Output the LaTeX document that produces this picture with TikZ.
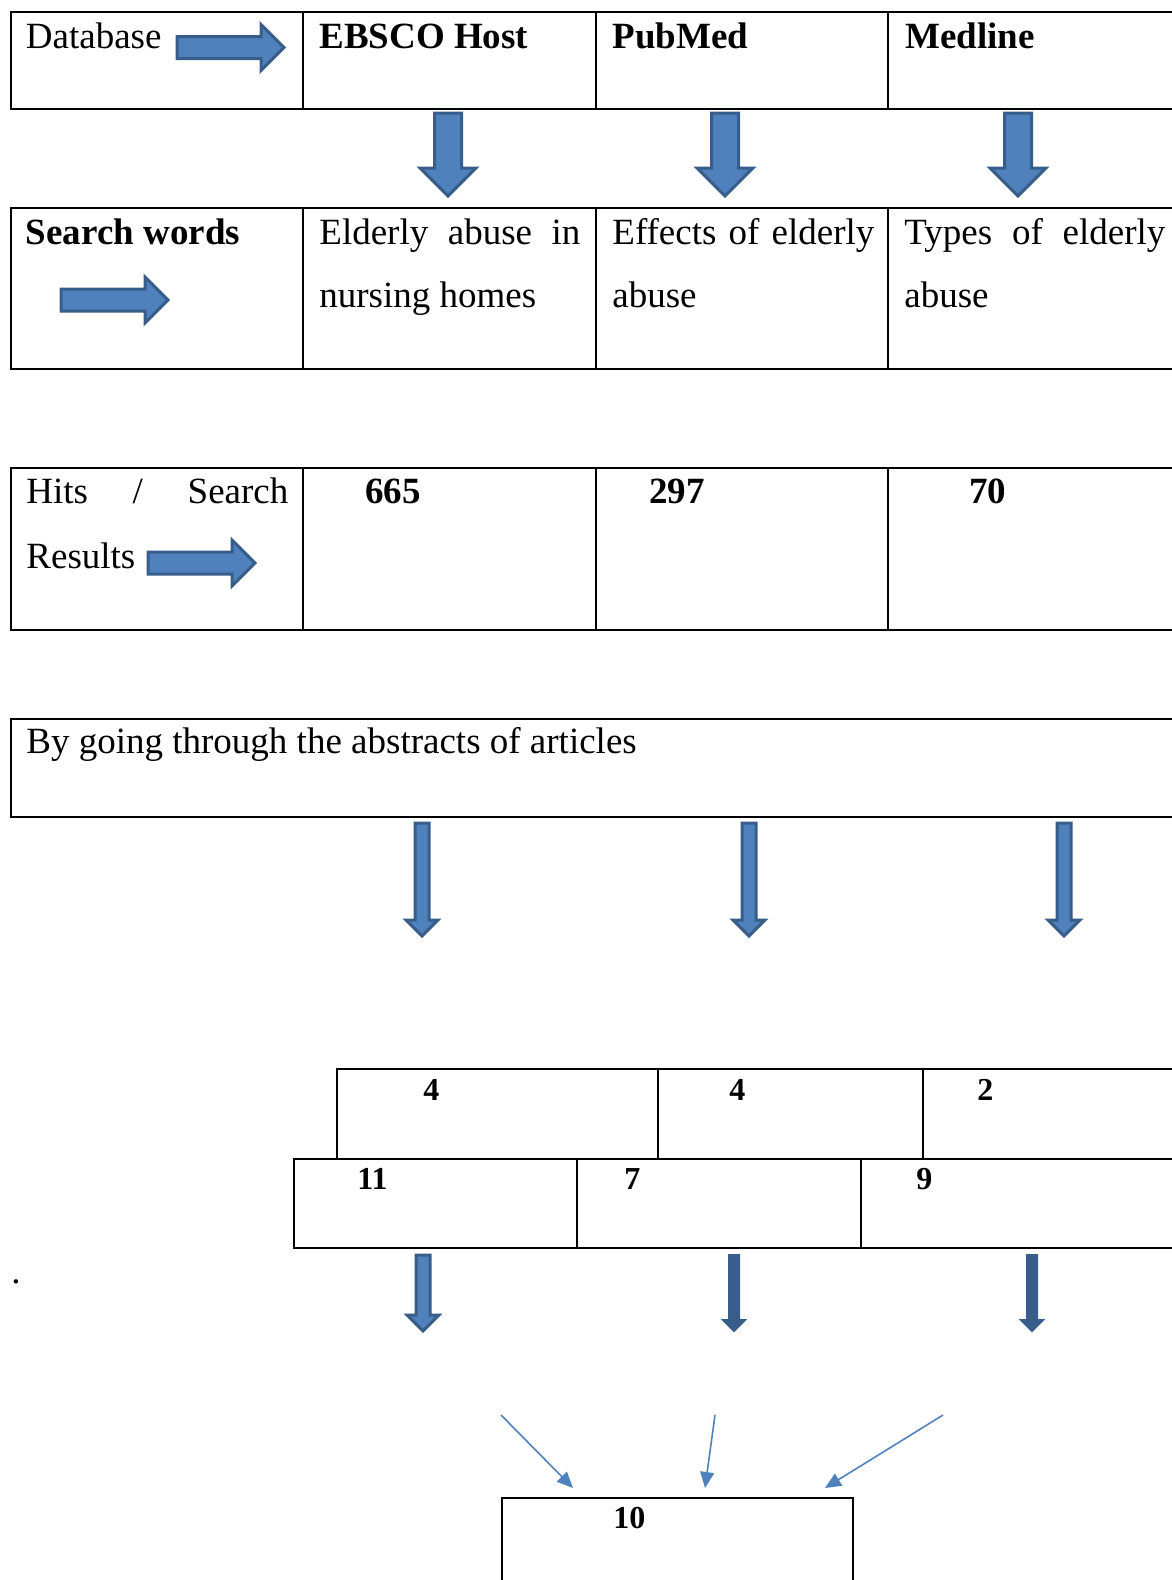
\documentclass[tikz,border=0pt]{standalone}
\usepackage{fontspec}
\setmainfont{Liberation Serif}
\usepackage{tikz}
\usetikzlibrary{arrows.meta}
\definecolor{cFill}{RGB}{79,129,189}
\definecolor{cEdge}{RGB}{56,93,138}

\begin{document}
\begin{tikzpicture}[x=0.5pt,y=-0.5pt,
   cell/.style={draw,line width=1pt},
   txt/.style={anchor=base west,inner sep=0pt,font=\fontsize{18.5}{22}\selectfont},
   head/.style={txt,font=\fontsize{18.5}{22}\selectfont\bfseries},
   num/.style={anchor=base west,inner sep=0pt,font=\fontsize{16}{19}\selectfont\bfseries},
   blk/.style={draw=cEdge,fill=cFill,line width=1.5pt},
   blkdark/.style={draw=cEdge,fill=cEdge,line width=1pt},
   link/.style={draw=cFill,line width=0.8pt,-{Triangle[length=8pt,width=7pt]}}]
  \useasboundingbox (0,0) rectangle (1172,1580);
  % table rows
  \draw[cell] (10.5,12) rectangle (1180,109);
  \draw[cell] (10.5,208) rectangle (1180,369);
  \draw[cell] (10.5,468) rectangle (1180,630);
  \foreach \x in {302.5,596,888} {
    \draw[cell] (\x,12) -- (\x,109);
    \draw[cell] (\x,208) -- (\x,369);
    \draw[cell] (\x,468) -- (\x,630);
  }
  \draw[cell] (10.5,719) rectangle (1180,817);
  % selected articles
  \draw[cell] (337,1068.5) rectangle (1180,1158.5);
  \foreach \x in {658,923} \draw[cell] (\x,1068.5) -- (\x,1158.5);
  \draw[cell] (294,1158.5) rectangle (1180,1248);
  \foreach \x in {577,861} \draw[cell] (\x,1158.5) -- (\x,1248);
  \draw[cell] (502,1600) |- (853,1498) -- (853,1600);
  % row texts
  \node[txt] (tDb) at (25.5,48) {Database};
  \node[head] (tEbsco) at (319,48) {EBSCO Host};
  \node[head] (tPub) at (612,48) {PubMed};
  \node[head] (tMed) at (905,48) {Medline};
  \node[head] (tWords) at (25.5,244) {Search words};
  \node[txt] (w1a) at (319,244) {\makebox[130.5pt][s]{Elderly abuse in}};
  \node[txt] (w1b) at (319,307) {nursing homes};
  \node[txt] (w2a) at (612,244) {\makebox[131pt][s]{Effects of elderly}};
  \node[txt] (w2b) at (612,307) {abuse};
  \node[txt] (w3a) at (904,244) {\makebox[130.5pt][s]{Types of elderly}};
  \node[txt] (w3b) at (904,307) {abuse};
  \node[txt] (tHits) at (26,503) {\makebox[131pt][s]{Hits / Search}};
  \node[txt] (tRes) at (26,568) {Results};
  \node[head] (h1) at (365,503) {665};
  \node[head] (h2) at (649,503) {297};
  \node[head] (h3) at (969,503) {70};
  \node[txt] (tAbs) at (26,753) {By going through the abstracts of articles};
  \node[num] (a1) at (423,1100) {4};
  \node[num] (a2) at (729,1100) {4};
  \node[num] (a3) at (977,1100) {2};
  \node[num] (b1) at (357,1189) {11};
  \node[num] (b2) at (624,1189) {7};
  \node[num] (b3) at (916,1189) {9};
  \node[num] (tTotal) at (613,1528) {10};
  \node[txt] (tDot) at (11,1283) {.};
  % right block arrows
  \foreach \tx/\cy in {177/47.5,61/300,148/563}
    \draw[blk] (\tx,\cy-11) -- (\tx+84,\cy-11) -- (\tx+84,\cy-23) -- (\tx+107,\cy)
      -- (\tx+84,\cy+23) -- (\tx+84,\cy+11) -- (\tx,\cy+11) -- cycle;
  % down block arrows
  \foreach \cx in {448,725,1018}
    \draw[blk] (\cx-13.5,113) -- (\cx+13.5,113) -- (\cx+13.5,168) -- (\cx+28,168)
      -- (\cx,196) -- (\cx-28,168) -- (\cx-13.5,168) -- cycle;
  \foreach \cx in {422,749,1064}
    \draw[blk] (\cx-7,823) -- (\cx+7,823) -- (\cx+7,920) -- (\cx+16,920)
      -- (\cx,936) -- (\cx-16,920) -- (\cx-7,920) -- cycle;
  \draw[blk] (416,1255) -- (430,1255) -- (430,1315) -- (439,1315)
      -- (423,1331) -- (407,1315) -- (416,1315) -- cycle;
  \foreach \cx in {734,1032}
    \draw[blkdark] (\cx-5,1255) -- (\cx+5,1255) -- (\cx+5,1320) -- (\cx+11,1320)
      -- (\cx,1331) -- (\cx-11,1320) -- (\cx-5,1320) -- cycle;
  % feeds into the final count
  \coordinate (s1) at (501,1415); \coordinate (e1) at (573,1488);
  \coordinate (s2) at (715,1415); \coordinate (e2) at (705,1488);
  \coordinate (s3) at (943,1415); \coordinate (e3) at (825,1488);
  \draw[link] (s1) -- (e1);
  \draw[link] (s2) -- (e2);
  \draw[link] (s3) -- (e3);
\end{tikzpicture}
\end{document}
